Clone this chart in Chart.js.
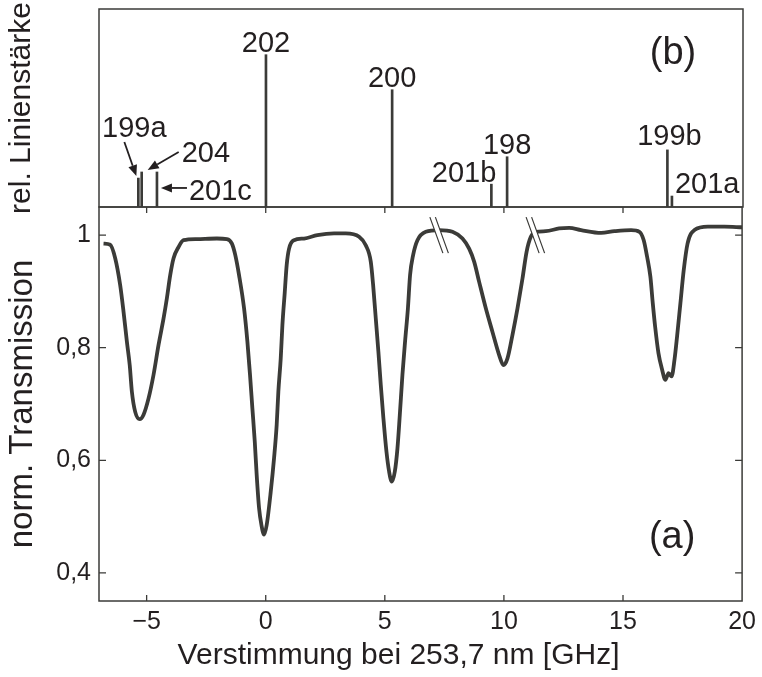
<!DOCTYPE html>
<html>
<head>
<meta charset="utf-8">
<script src="https://cdn.jsdelivr.net/npm/chart.js@4"></script>
<style>
html, body { margin: 0; padding: 0; background: #fff; }
#wrap { position: relative; width: 762px; height: 677px; }
#wrap canvas { position: absolute; left: 0; top: 0; }
</style>
</head>
<body>
<div id="wrap">
  <canvas id="lines" width="762" height="677"></canvas>
  <canvas id="trans" width="762" height="677"></canvas>
</div>
<script>
// (b) Hg isotope lines, strength relative to 202
const isotopes = ['199a', '204', '201c', '202', '200', '201b', '198', '199b', '201a'];
const linePos = [-5.35, -5.21, -4.57, 0, 5.29, 9.45, 10.11, 16.83, 17.02];
const lineStrength = [0.19, 0.23, 0.23, 1.0, 0.77, 0.15, 0.33, 0.375, 0.072];

// (a) measured transmission
const detuning = [
  -6.81, -6.53, -6.32, -6.11, -5.97, -5.83, -5.71, -5.62, -5.48, -5.29,
  -5.13, -4.92, -4.71, -4.50, -4.29, -4.15, -4.01, -3.87, -3.66, -3.45,
  -2.89, -2.05, -1.63, -1.42, -1.28, -1.12, -0.91, -0.77, -0.66, -0.56,
  -0.46, -0.38, -0.28, -0.18, -0.07, 0.04, 0.21, 0.35, 0.46, 0.53,
  0.63, 0.70, 0.80, 0.88, 0.98, 1.19, 1.61, 2.17, 2.87, 3.36,
  3.92, 4.20, 4.41, 4.51, 4.62, 4.73, 4.83, 4.94, 5.07, 5.18,
  5.29, 5.42, 5.53, 5.63, 5.74, 5.85, 5.97, 6.06, 6.19, 6.37,
  6.72, 7.28, 7.84, 8.26, 8.54, 8.75, 8.96, 9.24, 9.52, 9.80,
  9.98, 10.15, 10.36, 10.57, 10.78, 10.95, 11.13, 11.34, 11.76, 12.32,
  12.74, 13.24, 14.08, 14.64, 15.34, 15.69, 15.87, 16.01, 16.15, 16.25,
  16.35, 16.49, 16.63, 16.78, 16.91, 17.04, 17.16, 17.27, 17.41, 17.55,
  17.71, 18.00, 18.56, 19.26, 20.0
];
const transmission = [
  0.985, 0.983, 0.959, 0.911, 0.864, 0.811, 0.769, 0.722, 0.686, 0.673,
  0.681, 0.710, 0.752, 0.805, 0.852, 0.888, 0.929, 0.959, 0.979, 0.991,
  0.993, 0.994, 0.993, 0.985, 0.965, 0.929, 0.870, 0.811, 0.752, 0.692,
  0.633, 0.574, 0.515, 0.485, 0.468, 0.485, 0.544, 0.604, 0.663, 0.722,
  0.781, 0.840, 0.899, 0.947, 0.976, 0.991, 0.994, 1.000, 1.003, 1.003,
  0.997, 0.982, 0.953, 0.911, 0.852, 0.793, 0.734, 0.675, 0.615, 0.580,
  0.562, 0.580, 0.621, 0.681, 0.752, 0.811, 0.870, 0.929, 0.965, 0.991,
  1.006, 1.009, 1.006, 0.994, 0.976, 0.953, 0.917, 0.870, 0.828, 0.787,
  0.769, 0.781, 0.823, 0.870, 0.923, 0.970, 0.997, 1.006, 1.007, 1.012,
  1.013, 1.009, 1.004, 1.007, 1.009, 1.006, 0.991, 0.962, 0.926, 0.879,
  0.837, 0.790, 0.763, 0.743, 0.755, 0.749, 0.778, 0.820, 0.879, 0.938,
  0.985, 1.009, 1.015, 1.015, 1.014
];
const breakMarks = [7.28, 11.32];

const xTicks = [-5, 0, 5, 10, 15, 20];
const xTickLabels = ['\u22125', '0', '5', '10', '15', '20'];
const yTicks = [0.4, 0.6, 0.8, 1.0];
const yTickLabels = ['0,4', '0,6', '0,8', '1'];
const xTitle = 'Verstimmung bei 253,7 nm [GHz]';

const ink = '#231f20';
const stroke = '#3b3b38';
const fontFamily = "'Liberation Sans', Arial, sans-serif";
Chart.defaults.font.family = fontFamily;
Chart.defaults.color = ink;

// label placement next to each stick tip (pixels)
const labelStyle = {
  '199a': { dx: -4, dy: -41, align: 'center', arrow: [-14, -36, -2, -2] },
  '204':  { dx: 40, dy: -10, align: 'left', arrow: [37, -20, 6, -2] },
  '201c': { dx: 32, dy: 28, align: 'left', arrow: [30, 16, 4, 16] },
  '202':  { dx: 0, dy: -3, align: 'center' },
  '200':  { dx: 0, dy: -3, align: 'center' },
  '201b': { dx: 5, dy: -2, align: 'right' },
  '198':  { dx: 0, dy: -3, align: 'center' },
  '199b': { dx: 2, dy: -5, align: 'center' },
  '201a': { dx: 3, dy: -3, align: 'left' }
};

function arrow(ctx, x0, y0, x1, y1) {
  const a = Math.atan2(y1 - y0, x1 - x0);
  const hl = 11, hw = 4.5;
  ctx.beginPath();
  ctx.moveTo(x0, y0);
  ctx.lineTo(x1 - Math.cos(a) * hl, y1 - Math.sin(a) * hl);
  ctx.stroke();
  ctx.beginPath();
  ctx.moveTo(x1, y1);
  ctx.lineTo(x1 - Math.cos(a) * hl - Math.sin(a) * hw, y1 - Math.sin(a) * hl + Math.cos(a) * hw);
  ctx.lineTo(x1 - Math.cos(a) * hl + Math.sin(a) * hw, y1 - Math.sin(a) * hl - Math.cos(a) * hw);
  ctx.closePath();
  ctx.fill();
}

const frame = {
  id: 'frame',
  afterDatasetsDraw(chart, args, opts) {
    const { ctx, chartArea: a, scales } = chart;
    ctx.save();
    ctx.strokeStyle = stroke;
    ctx.lineWidth = 1.5;
    ctx.strokeRect(a.left, a.top, a.right - a.left, a.bottom - a.top);
    if (opts.ticks) {
      ctx.lineWidth = 1.3;
      ctx.beginPath();
      scales.x.ticks.forEach(t => {
        const p = scales.x.getPixelForValue(t.value);
        if (p >= a.right - 1) return;
        ctx.moveTo(p, a.bottom); ctx.lineTo(p, a.bottom - 6);
        ctx.moveTo(p, a.top); ctx.lineTo(p, a.top + 6);
      });
      scales.y.ticks.forEach(t => {
        const p = scales.y.getPixelForValue(t.value);
        ctx.moveTo(a.left, p); ctx.lineTo(a.left + 7, p);
        ctx.moveTo(a.right, p); ctx.lineTo(a.right - 7, p);
      });
      ctx.stroke();
    }
    ctx.fillStyle = ink;
    ctx.textAlign = 'center';
    ctx.textBaseline = 'middle';
    if (opts.xTitle) {
      ctx.font = '30px ' + fontFamily;
      ctx.fillText(opts.xTitle, (a.left + a.right) / 2 - 22, a.bottom + 55);
    }
    ctx.font = '38px ' + fontFamily;
    if (opts.tag === 'b') ctx.fillText('(b)', a.right - 70, a.top + 45);
    if (opts.tag === 'a') ctx.fillText('(a)', a.right - 70, a.bottom - 63);
    ctx.restore();
  }
};

const stickLabels = {
  id: 'stickLabels',
  afterDatasetsDraw(chart) {
    const { ctx, scales } = chart;
    ctx.save();
    ctx.font = '29px ' + fontFamily;
    ctx.fillStyle = ink;
    ctx.strokeStyle = ink;
    ctx.lineWidth = 1.8;
    ctx.textBaseline = 'alphabetic';
    isotopes.forEach((name, i) => {
      const sx = scales.x.getPixelForValue(linePos[i]);
      const sy = scales.y.getPixelForValue(lineStrength[i]);
      const s = labelStyle[name];
      ctx.textAlign = s.align;
      ctx.fillText(name, sx + s.dx, sy + s.dy);
      if (s.arrow) arrow(ctx, sx + s.arrow[0], sy + s.arrow[1], sx + s.arrow[2], sy + s.arrow[3]);
    });
    ctx.restore();
  }
};

const scanBreaks = {
  id: 'scanBreaks',
  afterDatasetsDraw(chart) {
    const { ctx, scales } = chart;
    ctx.save();
    breakMarks.forEach(bx => {
      const px = scales.x.getPixelForValue(bx);
      const py = scales.y.getPixelForValue(1.0);
      const dx = 6.5, dy = 18, sep = 5.5;
      ctx.fillStyle = '#fff';
      ctx.beginPath();
      ctx.moveTo(px - sep / 2 - dx, py - dy);
      ctx.lineTo(px + sep / 2 - dx, py - dy);
      ctx.lineTo(px + sep / 2 + dx, py + dy);
      ctx.lineTo(px - sep / 2 + dx, py + dy);
      ctx.closePath();
      ctx.fill();
      ctx.strokeStyle = stroke;
      ctx.lineWidth = 1.2;
      ctx.beginPath();
      [-sep / 2, sep / 2].forEach(o => {
        ctx.moveTo(px + o - dx, py - dy);
        ctx.lineTo(px + o + dx, py + dy);
      });
      ctx.stroke();
    });
    ctx.restore();
  }
};

// top panel (b)
new Chart(document.getElementById('lines'), {
  type: 'bar',
  data: {
    datasets: [{
      data: linePos.map((x, i) => ({ x: x, y: lineStrength[i] })),
      backgroundColor: stroke,
      barThickness: 2
    }]
  },
  options: {
    responsive: false,
    animation: false,
    layout: { padding: { left: 0, right: 19, top: 9, bottom: 470 } },
    plugins: { legend: { display: false }, tooltip: { enabled: false }, frame: { tag: 'b' } },
    scales: {
      x: { type: 'linear', min: -7, max: 20, offset: false, display: false },
      y: {
        min: 0, max: 1.3,
        grid: { display: false, drawTicks: false }, border: { display: false },
        ticks: { display: false },
        title: { display: true, text: 'rel. Linienstärke', font: { size: 30 }, padding: { top: 4, bottom: 0 } },
        afterFit: s => { s.width = 99; }
      }
    }
  },
  plugins: [frame, stickLabels]
});

// bottom panel (a)
new Chart(document.getElementById('trans'), {
  type: 'line',
  data: {
    datasets: [{
      data: detuning.map((x, i) => ({ x: x, y: transmission[i] })),
      borderColor: stroke,
      borderWidth: 3.8,
      pointRadius: 0,
      cubicInterpolationMode: 'monotone',
      fill: false
    }]
  },
  options: {
    responsive: false,
    animation: false,
    layout: { padding: { left: 0, right: 19, top: 207, bottom: 0 } },
    plugins: { legend: { display: false }, tooltip: { enabled: false }, frame: { ticks: true, tag: 'a', xTitle: xTitle } },
    scales: {
      x: {
        type: 'linear', min: -7, max: 20, offset: false,
        grid: { display: false, drawTicks: false }, border: { display: false },
        afterBuildTicks: s => { s.ticks = xTicks.map(v => ({ value: v })); },
        ticks: { font: { size: 25 }, padding: 6, maxRotation: 0, autoSkip: false,
                 callback: (v, i) => xTickLabels[i] },
        afterFit: s => { s.height = 76; }
      },
      y: {
        min: 0.35, max: 1.05,
        grid: { display: false, drawTicks: false }, border: { display: false },
        afterBuildTicks: s => { s.ticks = yTicks.map(v => ({ value: v })); },
        ticks: { font: { size: 25 }, padding: 8, callback: (v, i) => yTickLabels[i] },
        title: { display: true, text: 'norm. Transmission', font: { size: 33 }, padding: { top: 3, bottom: 0 } },
        afterFit: s => { s.width = 99; }
      }
    }
  },
  plugins: [frame, scanBreaks]
});
</script>
</body>
</html>
